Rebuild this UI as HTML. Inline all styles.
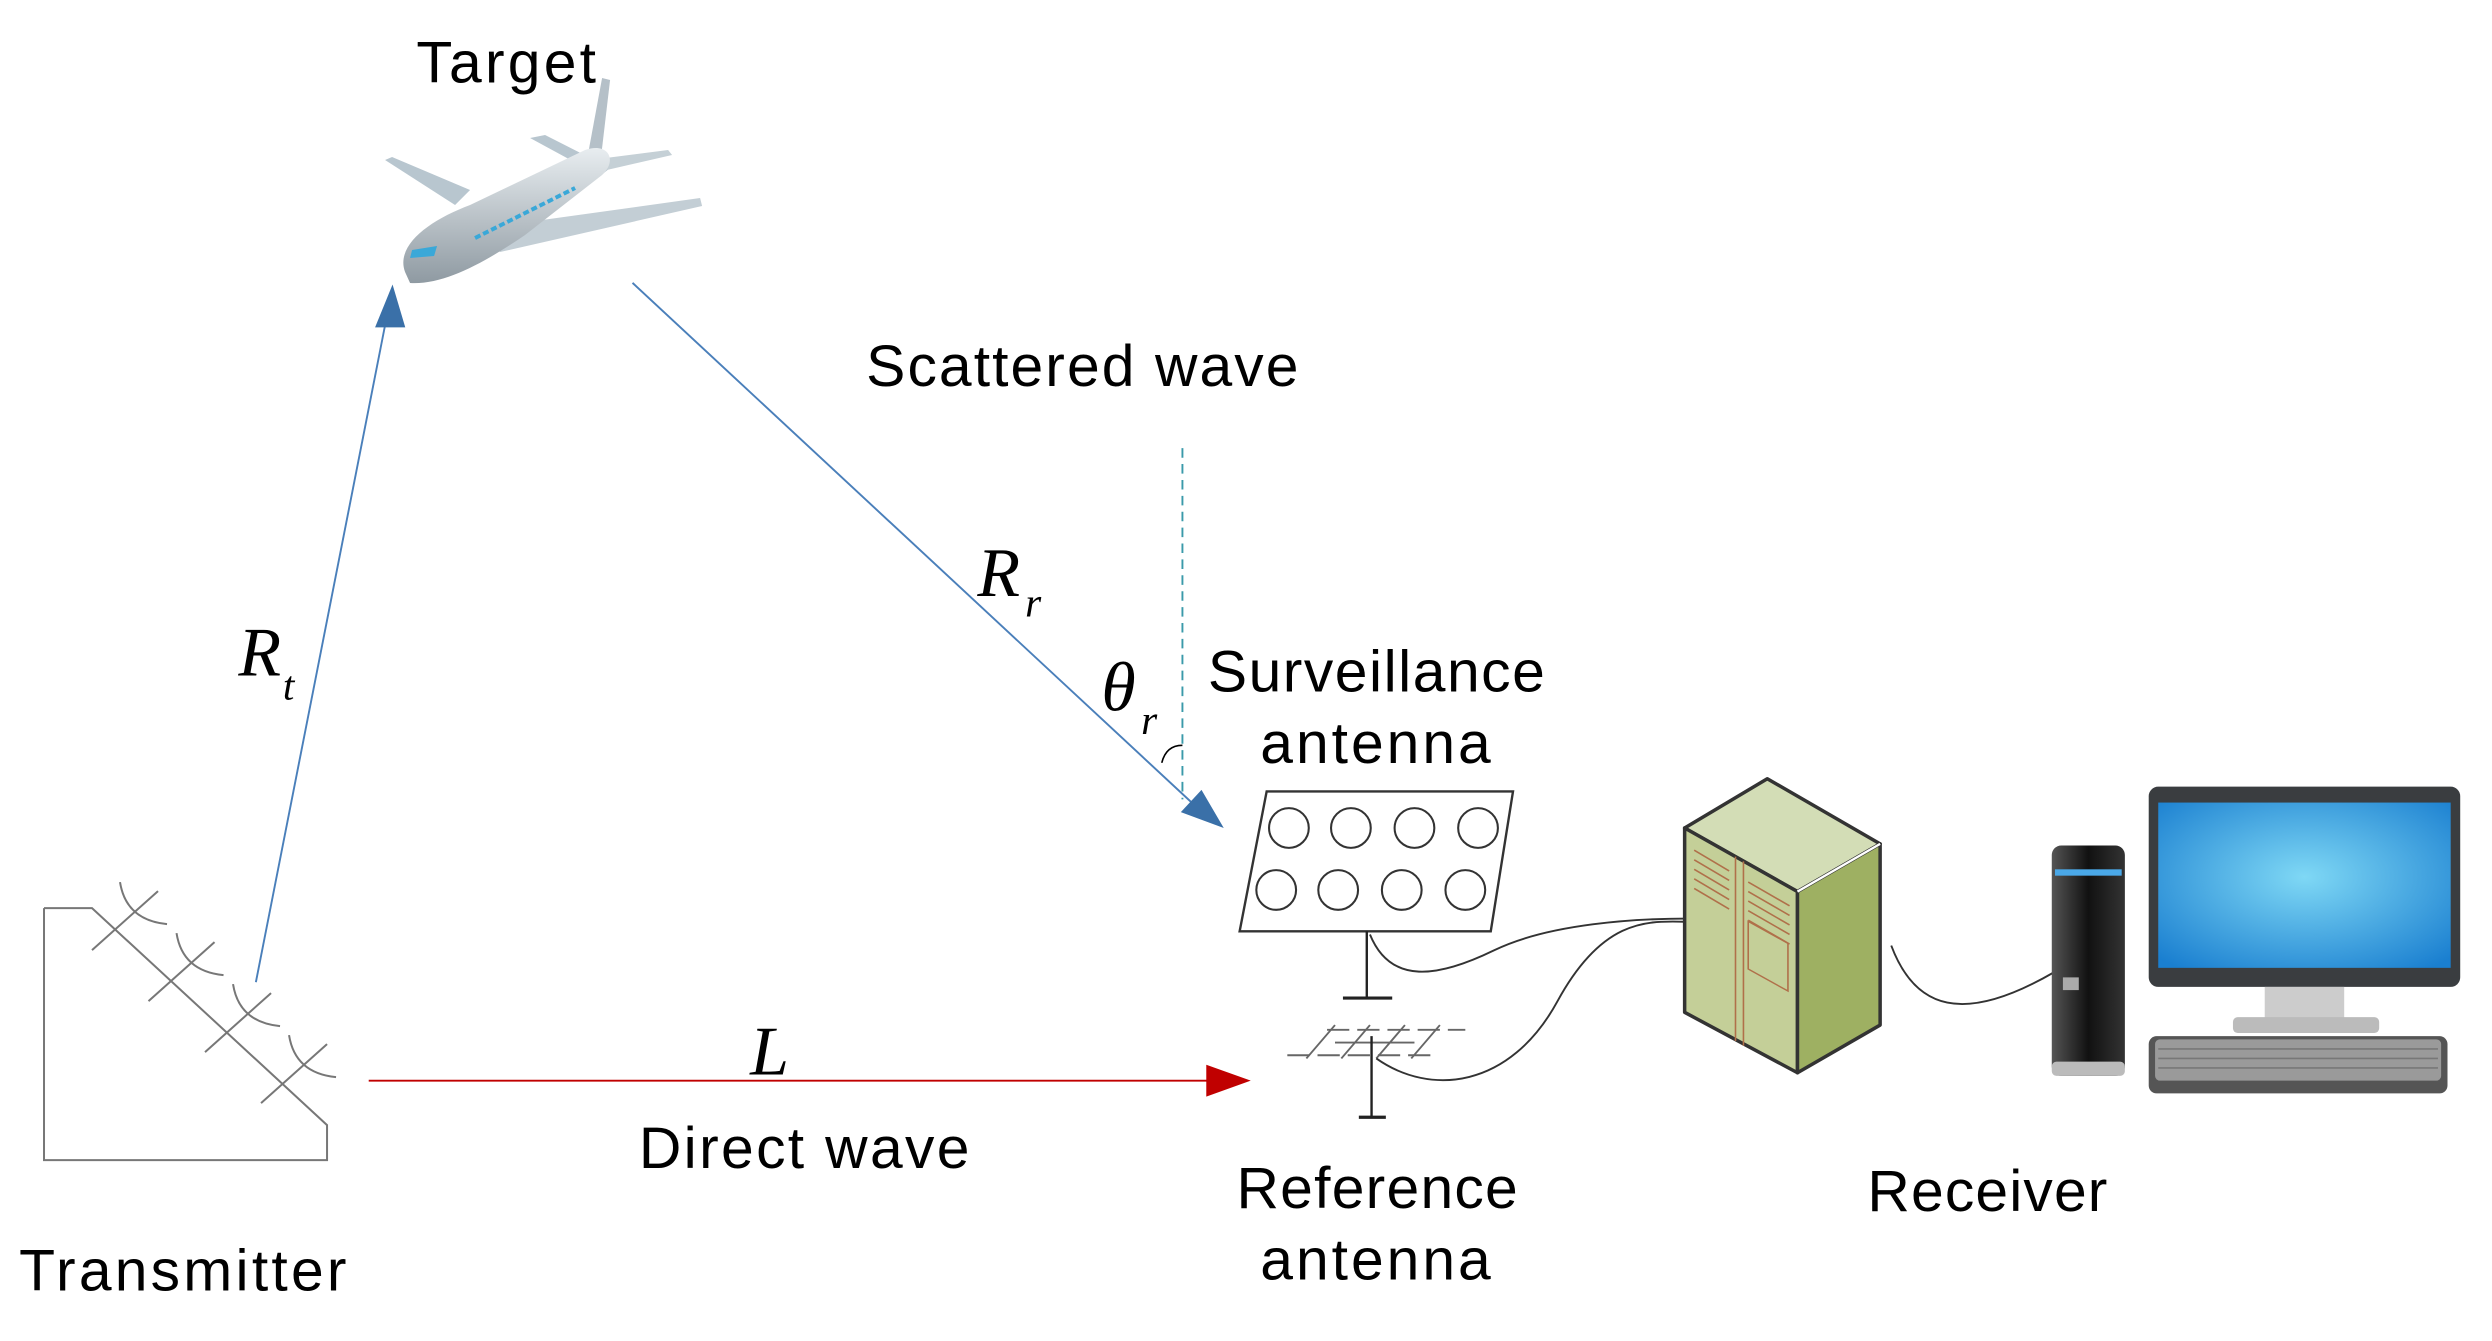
<!DOCTYPE html>
<html><head><meta charset="utf-8"><style>
html,body{margin:0;padding:0;background:#fff;}
svg{display:block;}
.t{font-family:"Liberation Sans",sans-serif;font-size:37px;fill:#000;}
.m{font-family:"Liberation Serif",serif;font-style:italic;fill:#000;}
</style></head><body>
<svg width="2492" height="1341" viewBox="0 0 1568 843.8" preserveAspectRatio="none" xmlns="http://www.w3.org/2000/svg">
<defs>
<linearGradient id="pl" x1="0" y1="0" x2="0" y2="1"><stop offset="0" stop-color="#e8edf0"/><stop offset="1" stop-color="#8f9aa2"/></linearGradient>
<radialGradient id="scr" cx="0.5" cy="0.45" r="0.7"><stop offset="0" stop-color="#7fd8f5"/><stop offset="1" stop-color="#1a7fd0"/></radialGradient>
<linearGradient id="tw" x1="0" y1="0" x2="1" y2="0"><stop offset="0" stop-color="#555"/><stop offset="0.5" stop-color="#111"/><stop offset="1" stop-color="#333"/></linearGradient>
</defs>

<text class="t" x="262" y="52" textLength="113">Target</text>
<text class="t" x="545" y="243" textLength="272">Scattered wave</text>
<text class="t" x="760" y="435" textLength="212">Surveillance</text>
<text class="t" x="793" y="480" textLength="145">antenna</text>
<text class="t" x="402" y="735" textLength="208">Direct wave</text>
<text class="t" x="12" y="812" textLength="206">Transmitter</text>
<text class="t" x="778" y="760" textLength="177">Reference</text>
<text class="t" x="793" y="805" textLength="145">antenna</text>
<text class="t" x="1175" y="762" textLength="151">Receiver</text>

<text class="m" x="150" y="425" font-size="44">R</text>
<text class="m" x="178" y="440" font-size="26">t</text>
<text class="m" x="615" y="375" font-size="44">R</text>
<text class="m" x="645" y="388" font-size="26">r</text>
<text class="m" x="693" y="447" font-size="44">θ</text>
<text class="m" x="718" y="462" font-size="26">r</text>
<text class="m" x="472" y="676" font-size="44">L</text>

<g transform="scale(0.6293)">
<path d="M530,138 L545,135 L610,168 L600,176 Z" fill="#b8c6cf"/>
<path d="M602,78 L610,80 L600,165 L585,170 Z" fill="#b5c0c8"/>
<path d="M590,160 L668,150 L672,155 L598,172 Z" fill="#c5d0d6"/>
<path d="M385,160 L392,157 L470,190 L455,205 Z" fill="#b8c6cf"/>
<path d="M470,230 L700,198 L702,206 L500,252 Z" fill="#c3ced5"/>
<path d="M405,272 C395,245 430,220 470,205 L585,150 C608,142 618,160 602,175 L525,235 C485,262 445,285 410,283 Z" fill="url(#pl)"/>
<path d="M412,250 L437,246 L434,256 L410,258 Z" fill="#3aa8d8"/>
<path d="M475,238 L575,188" stroke="#3aa8d8" stroke-width="4" stroke-dasharray="6,3"/>
</g>

<line x1="161" y1="618" x2="244" y2="196" stroke="#4a7fba" stroke-width="1.2"/>
<polygon points="247,179 236,206 255,206" fill="#3a70a8"/>

<line x1="398" y1="178" x2="752" y2="507" stroke="#4a7fba" stroke-width="1.2"/>
<polygon points="770,521 743,511 756,497" fill="#3a70a8"/>

<line x1="744" y1="282" x2="744" y2="503" stroke="#3a9aaa" stroke-width="1.2" stroke-dasharray="6,4"/>
<path d="M731,480 C733,472 738,469 744,469" fill="none" stroke="#000" stroke-width="1"/>

<line x1="232" y1="680" x2="762" y2="680" stroke="#c00000" stroke-width="1.2"/>
<polygon points="787,680 759,670 759,690" fill="#c00000"/>

<g transform="scale(0.6293)" fill="none" stroke="#777" stroke-width="2">
<polyline points="44,908 92,908 327,1125 327,1160 44,1160 44,908"/>
<g id="ax">
<line x1="92" y1="950" x2="158" y2="891"/>
<path d="M120,882 Q126,920 167,924"/>
</g>
<use href="#ax" transform="translate(56.5,51)"/>
<use href="#ax" transform="translate(113,102)"/>
<use href="#ax" transform="translate(169,153)"/>
</g>

<polygon points="797,498 952,498 938,586 780,586" fill="#fff" stroke="#333" stroke-width="1.5"/>
<g fill="none" stroke="#333" stroke-width="1.3">
<circle cx="811" cy="521" r="12.5"/><circle cx="850" cy="521" r="12.5"/><circle cx="890" cy="521" r="12.5"/><circle cx="930" cy="521" r="12.5"/>
<circle cx="803" cy="560" r="12.5"/><circle cx="842" cy="560" r="12.5"/><circle cx="882" cy="560" r="12.5"/><circle cx="922" cy="560" r="12.5"/>
</g>
<line x1="860" y1="586" x2="860" y2="628" stroke="#222" stroke-width="1.5"/>
<line x1="845" y1="628" x2="876" y2="628" stroke="#222" stroke-width="2"/>

<g stroke="#666" stroke-width="1.2" fill="none">
<line x1="835" y1="648" x2="922" y2="648" stroke-dasharray="14,5"/>
<line x1="810" y1="664" x2="900" y2="664" stroke-dasharray="14,5"/>
<line x1="840" y1="645" x2="822" y2="666"/>
<line x1="862" y1="645" x2="844" y2="666"/>
<line x1="884" y1="645" x2="866" y2="666"/>
<line x1="906" y1="645" x2="888" y2="666"/>
<line x1="840" y1="656" x2="890" y2="656"/>
</g>
<line x1="863" y1="652" x2="863" y2="703" stroke="#222" stroke-width="1.5"/>
<line x1="855" y1="703" x2="872" y2="703" stroke="#222" stroke-width="2"/>

<g fill="none" stroke="#333" stroke-width="1.2">
<path d="M862,588 C875,620 905,615 940,598 S1030,578 1062,578"/>
<path d="M866,666 C900,690 950,685 980,630 S1040,580 1062,580"/>
<path d="M1190,595 C1205,635 1235,645 1292,612"/>
</g>

<g stroke="#333" stroke-width="2.2" stroke-linejoin="round">
<polygon points="1112,490 1183,531 1131,561 1060,521" fill="#d3ddb6"/>
<polygon points="1060,521 1131,561 1131,675 1060,637" fill="#c4cf98"/>
<polygon points="1131,561 1183,531 1183,645 1131,675" fill="#9eb062"/>
</g>
<g stroke="#b0704a" stroke-width="1" fill="none">
<line x1="1092" y1="539" x2="1092" y2="655"/>
<line x1="1097" y1="542" x2="1097" y2="658"/>
<rect x="1100" y="580" width="25" height="30" transform="skewY(29) translate(0,-610)"/>
</g>
<g stroke="#b0704a" stroke-width="1">
<line x1="1066" y1="535" x2="1088" y2="548"/><line x1="1066" y1="541" x2="1088" y2="554"/><line x1="1066" y1="547" x2="1088" y2="560"/><line x1="1066" y1="553" x2="1088" y2="566"/><line x1="1066" y1="559" x2="1088" y2="572"/>
<line x1="1100" y1="555" x2="1126" y2="570"/><line x1="1100" y1="561" x2="1126" y2="576"/><line x1="1100" y1="567" x2="1126" y2="582"/><line x1="1100" y1="573" x2="1126" y2="588"/><line x1="1100" y1="579" x2="1126" y2="594"/>
</g>
<line x1="1131" y1="561" x2="1183" y2="531" stroke="#fff" stroke-width="1.5"/>

<rect x="1291" y="532" width="46" height="145" rx="6" fill="url(#tw)"/>
<rect x="1293" y="547" width="42" height="4" fill="#4aa8e8"/>
<rect x="1291" y="668" width="46" height="9" rx="3" fill="#bbb"/>
<rect x="1298" y="615" width="10" height="8" fill="#aaa"/>
<rect x="1352" y="495" width="196" height="126" rx="6" fill="#3a3d40"/>
<rect x="1358" y="505" width="184" height="104" fill="url(#scr)"/>
<rect x="1425" y="621" width="50" height="22" fill="#ccc"/>
<rect x="1405" y="640" width="92" height="10" rx="3" fill="#bbb"/>
<rect x="1352" y="652" width="188" height="36" rx="5" fill="#555"/>
<rect x="1356" y="654" width="180" height="26" rx="3" fill="#9a9a9a"/>
<g stroke="#777" stroke-width="1">
<line x1="1358" y1="660" x2="1534" y2="660"/><line x1="1358" y1="666" x2="1534" y2="666"/><line x1="1358" y1="672" x2="1534" y2="672"/>
</g>
</svg>
</body></html>
